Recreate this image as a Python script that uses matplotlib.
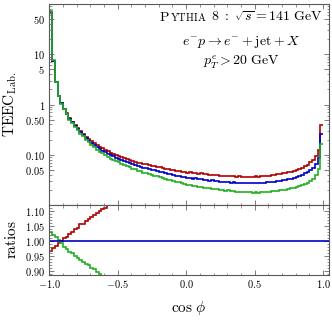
import numpy as np
import matplotlib
matplotlib.use("Agg")
import matplotlib.pyplot as plt
from matplotlib.ticker import FixedLocator, FixedFormatter
from matplotlib.offsetbox import TextArea, HPacker, AnnotationBbox

plt.rcParams['mathtext.fontset'] = 'cm'
plt.rcParams['font.family'] = ['cmr10', 'DejaVu Serif']
plt.rcParams['axes.formatter.use_mathtext'] = True

# ---- data (100 bins in cos(phi) from -1 to 1) ----
bin_edges = np.linspace(-1.0, 1.0, 101)

teec_blue = [70, 7.5, 2.8, 1.5, 1.05, 0.82, 0.66, 0.52, 0.44, 0.37,
             0.325, 0.28, 0.248, 0.214, 0.192, 0.171, 0.158, 0.141, 0.130, 0.121,
             0.111, 0.105, 0.097, 0.093, 0.086, 0.084, 0.077, 0.076, 0.0705, 0.069,
             0.0645, 0.0625, 0.0588, 0.0575, 0.0548, 0.0538, 0.0518, 0.0505, 0.0488, 0.0474,
             0.0458, 0.0448, 0.0428, 0.0423, 0.0407, 0.0403, 0.0386, 0.0384, 0.0366, 0.0364,
             0.0347, 0.0349, 0.0336, 0.0338, 0.0327, 0.0329, 0.0316, 0.0319, 0.0307, 0.0308,
             0.0297, 0.0301, 0.0289, 0.0293, 0.0284, 0.0288, 0.0279, 0.0283, 0.0275, 0.0279,
             0.0272, 0.0277, 0.0270, 0.0276, 0.0271, 0.0277, 0.0273, 0.0279, 0.0277, 0.0286,
             0.0283, 0.0293, 0.0292, 0.0302, 0.0303, 0.0315, 0.0318, 0.0331, 0.0336, 0.0352,
             0.0362, 0.0382, 0.0398, 0.0428, 0.0455, 0.0505, 0.0555, 0.0655, 0.085, 0.255]

ratio_red = [0.967, 0.976, 0.982, 0.993, 0.998, 1.009, 1.014, 1.024, 1.031, 1.041,
             1.044, 1.055, 1.058, 1.068, 1.072, 1.080, 1.086, 1.094, 1.099, 1.108,
             1.111, 1.119, 1.122, 1.131, 1.135, 1.142, 1.147, 1.151, 1.159, 1.162,
             1.169, 1.174, 1.181, 1.184, 1.191, 1.195, 1.202, 1.204, 1.211, 1.213,
             1.221, 1.224, 1.231, 1.234, 1.242, 1.246, 1.251, 1.255, 1.262, 1.263,
             1.271, 1.272, 1.279, 1.281, 1.288, 1.289, 1.297, 1.298, 1.304, 1.305,
             1.312, 1.311, 1.317, 1.316, 1.322, 1.321, 1.326, 1.324, 1.330, 1.328,
             1.333, 1.330, 1.336, 1.332, 1.337, 1.334, 1.339, 1.336, 1.342, 1.340,
             1.346, 1.344, 1.350, 1.348, 1.355, 1.354, 1.362, 1.362, 1.370, 1.368,
             1.378, 1.376, 1.388, 1.386, 1.398, 1.396, 1.412, 1.432, 1.47, 1.53]

ratio_green = [1.030, 1.021, 1.014, 1.002, 0.992, 0.979, 0.974, 0.964, 0.959, 0.948,
               0.943, 0.935, 0.931, 0.924, 0.919, 0.910, 0.907, 0.896, 0.891, 0.883,
               0.879, 0.870, 0.867, 0.858, 0.856, 0.848, 0.845, 0.836, 0.835, 0.826,
               0.824, 0.816, 0.815, 0.808, 0.807, 0.798, 0.797, 0.790, 0.788, 0.780,
               0.779, 0.770, 0.767, 0.759, 0.757, 0.748, 0.746, 0.738, 0.736, 0.728,
               0.726, 0.718, 0.717, 0.710, 0.709, 0.702, 0.701, 0.696, 0.696, 0.690,
               0.691, 0.686, 0.686, 0.681, 0.681, 0.676, 0.676, 0.670, 0.671, 0.665,
               0.665, 0.659, 0.659, 0.653, 0.653, 0.648, 0.649, 0.644, 0.646, 0.642,
               0.644, 0.641, 0.643, 0.640, 0.642, 0.638, 0.639, 0.634, 0.634, 0.628,
               0.627, 0.620, 0.619, 0.611, 0.608, 0.600, 0.597, 0.600, 0.61, 0.63]

main_yticks = [0.05, 0.1, 0.5, 1, 5, 10, 50]
main_yticklabels = ['0.05', '0.10', '0.50', '1', '5', '10', '50']
ratio_yticks = [0.90, 0.95, 1.00, 1.05, 1.10]
ratio_yticklabels = ['0.90', '0.95', '1.00', '1.05', '1.10']
xticks = [-1.0, -0.5, 0.0, 0.5, 1.0]
xticklabels = ['-1.0', '-0.5', '0.0', '0.5', '1.0']

teec_red = np.array(teec_blue) * np.array(ratio_red)
teec_green = np.array(teec_blue) * np.array(ratio_green)

c_red = '#b00000'
c_blue = '#0000c8'
c_green = '#22b022'
spine_c = '0.35'

W, H = 332, 322
fig = plt.figure(figsize=(W / 100, H / 100), dpi=100)
left, right = 48.5 / W, 329 / W
ax = fig.add_axes([left, 1 - 205 / H, right - left, 201 / H])
axr = fig.add_axes([left, 1 - 275 / H, right - left, 70 / H])

xlim = (-1.006, 1.044)

def mathlab(s):
    return ['$' + t.replace('-', '-') + '$' for t in s]

for a in (ax, axr):
    a.set_xlim(*xlim)
    for sp in a.spines.values():
        sp.set_color(spine_c)
        sp.set_linewidth(0.8)
    a.tick_params(which='both', direction='in', top=True, right=True,
                  color='0.4', labelsize=7.5, pad=2.5)
    a.tick_params(which='major', length=3.5, width=0.6)
    a.tick_params(which='minor', length=1.8, width=0.5)
    a.xaxis.set_major_locator(FixedLocator(xticks))
    a.xaxis.set_minor_locator(FixedLocator(np.round(np.arange(-1.0, 1.05, 0.1), 2)))

# main panel
ax.stairs(teec_red, bin_edges, color=c_red, lw=1.2, baseline=None)
ax.stairs(teec_blue, bin_edges, color=c_blue, lw=1.2, baseline=None)
ax.stairs(teec_green, bin_edges, color=c_green, lw=1.2, baseline=None)
ax.set_yscale('log')
ax.set_ylim(0.01, 100)
ax.yaxis.set_major_locator(FixedLocator(main_yticks))
ax.yaxis.set_major_formatter(FixedFormatter(mathlab(main_yticklabels)))
minors = []
for dec in [0.01, 0.1, 1, 10]:
    for k in range(1, 10):
        v = dec * k
        if not any(abs(v - t) < 1e-9 for t in main_yticks):
            minors.append(v)
minors.append(100)
ax.yaxis.set_minor_locator(FixedLocator(minors))
ax.yaxis.set_minor_formatter(FixedFormatter([''] * len(minors)))
ax.tick_params(axis='x', labelbottom=False)
ax.set_ylabel(r'$\mathrm{TEEC}_{\mathrm{Lab.}}$', fontsize=11, labelpad=4)

# text annotations
line1 = HPacker(children=[
    TextArea(r'$\mathrm{P}$', textprops=dict(size=10)),
    TextArea(r'$\mathrm{YTHIA}$', textprops=dict(size=7.6)),
    TextArea(r'$\mathrm{\ 8\ :\ }\sqrt{s}=141\ \mathrm{GeV}$', textprops=dict(size=10)),
], align='baseline', pad=0, sep=0)
ab = AnnotationBbox(line1, (0.686, 0.935), xycoords=ax.transAxes, frameon=False,
                    box_alignment=(0.5, 0.5), pad=0)
ax.add_artist(ab)
ax.text(0.686, 0.811, r'$e^{-}p \rightarrow e^{-} + \mathrm{jet} + X$', transform=ax.transAxes,
        ha='center', va='center', fontsize=10)
ax.text(0.686, 0.711, r'$p_T^{e} > 20\ \mathrm{GeV}$', transform=ax.transAxes,
        ha='center', va='center', fontsize=10)

# ratio panel
axr.axhline(1.0, color=c_blue, lw=1.2)
axr.stairs(ratio_red, bin_edges, color=c_red, lw=1.2, baseline=None)
axr.stairs(ratio_green, bin_edges, color=c_green, lw=1.2, baseline=None)
axr.set_ylim(0.886, 1.12)
axr.yaxis.set_major_locator(FixedLocator(ratio_yticks))
axr.yaxis.set_major_formatter(FixedFormatter(mathlab(ratio_yticklabels)))
axr.yaxis.set_minor_locator(FixedLocator(np.round(np.arange(0.89, 1.12, 0.01), 2)))
axr.xaxis.set_major_formatter(FixedFormatter(mathlab(xticklabels)))
axr.set_ylabel(r'$\mathrm{ratios}$', fontsize=11, labelpad=4)
axr.set_xlabel(r'$\cos\,\phi$', fontsize=11, labelpad=6)

fig.align_ylabels([ax, axr])
fig.savefig('out.png', dpi=100)
